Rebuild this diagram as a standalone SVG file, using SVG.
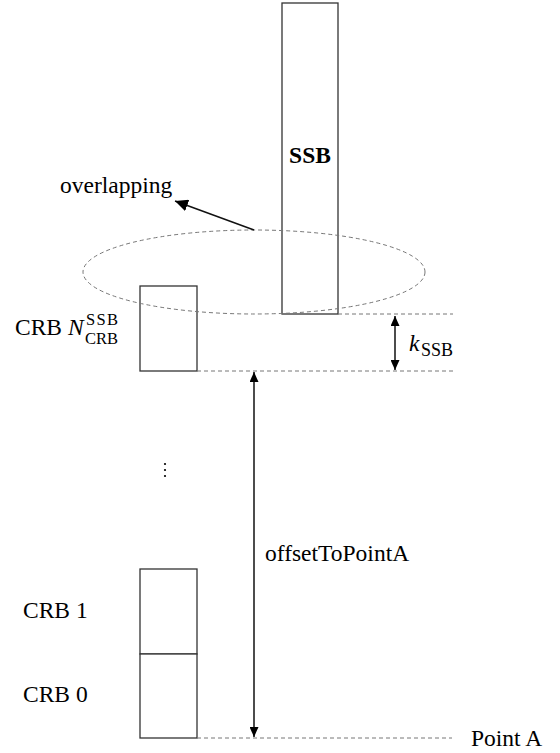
<svg xmlns="http://www.w3.org/2000/svg" width="560" height="753" viewBox="0 0 560 753">
<style>
.box{fill:#fff;stroke:#333;stroke-width:1.3}
.dash{fill:none;stroke:#777;stroke-width:1;stroke-dasharray:4 3}
.ln{stroke:#111;stroke-width:1.5;fill:none}
text{font-family:"Liberation Serif",serif;font-size:23.5px;fill:#000}
.it{font-style:italic}
.sm{font-size:18px}
.sc{font-size:16.5px}
</style>
<defs>
<marker id="ah" viewBox="0 0 10 10" refX="10" refY="5" markerWidth="10" markerHeight="9" markerUnits="userSpaceOnUse" orient="auto-start-reverse" preserveAspectRatio="none">
<path d="M0,0 L10,5 L0,10 z" fill="#000"/>
</marker>
<marker id="ah2" viewBox="0 0 10 10" refX="10" refY="5" markerWidth="13" markerHeight="12" markerUnits="userSpaceOnUse" orient="auto" preserveAspectRatio="none">
<path d="M0,0 L10,5 L0,10 z" fill="#000"/>
</marker>
</defs>
<g id="ssb"><rect class="box" x="282" y="3" width="56" height="311"/><text x="310" y="163" text-anchor="middle" font-weight="bold" font-size="19">SSB</text></g>
<g id="crbN"><rect class="box" x="140" y="286" width="57" height="85"/>
<text x="15" y="335">CRB <tspan class="it">N</tspan></text>
<text x="86" y="325" class="sc" textLength="32">SSB</text>
<text x="85" y="344" class="sc" textLength="33">CRB</text></g>
<g id="crb1"><rect class="box" x="140" y="569" width="57" height="85"/><text x="23" y="618">CRB 1</text></g>
<g id="crb0"><rect class="box" x="140" y="654" width="57" height="84"/><text x="23" y="702">CRB 0</text></g>
<g id="dots"><circle cx="165" cy="464" r="1.1" fill="#000"/><circle cx="165" cy="470" r="1.1" fill="#000"/><circle cx="165" cy="476" r="1.1" fill="#000"/></g>
<g id="connectors">
<ellipse class="dash" cx="254" cy="272" rx="171" ry="42"/>
<line class="dash" x1="338" y1="314" x2="453" y2="314"/>
<line class="dash" x1="197" y1="371" x2="453" y2="371"/>
<line class="dash" x1="197" y1="738" x2="452" y2="738"/>
<line class="ln" x1="395" y1="316" x2="395" y2="370" marker-start="url(#ah)" marker-end="url(#ah)"/>
<line class="ln" x1="254" y1="372" x2="254" y2="737" marker-start="url(#ah)" marker-end="url(#ah)"/>
<line class="ln" x1="254" y1="230" x2="175" y2="201" stroke-width="2" marker-end="url(#ah2)"/>
</g>
<text x="60" y="193">overlapping</text>
<text x="409" y="351" class="it">k</text>
<text x="421" y="356" class="sm">SSB</text>
<text x="265" y="561">offsetToPointA</text>
<text x="471" y="746">Point A</text>
</svg>
